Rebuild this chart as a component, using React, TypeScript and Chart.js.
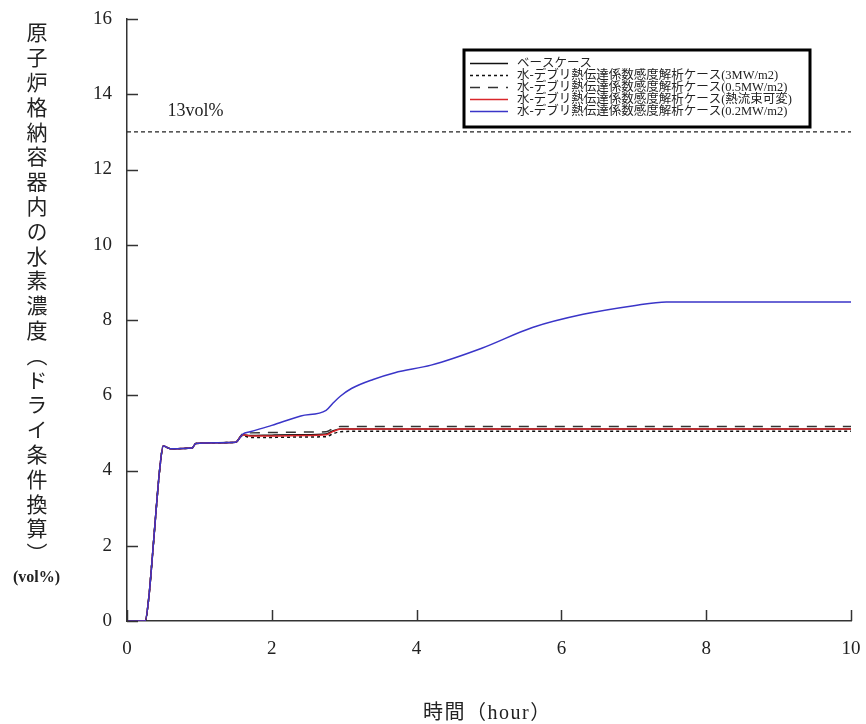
import React, { useEffect, useRef } from "react";
import { Chart, registerables } from "chart.js";

Chart.register(...registerables);

const hours = [0, 0.25, 0.3, 0.35, 0.4, 0.45, 0.5, 0.6, 0.9, 0.95, 1.5, 1.6, 1.7, 2.0, 2.4, 2.75, 2.85, 2.95, 3.1, 3.4, 3.7, 4.2, 4.9, 5.6, 6.3, 7.0, 7.45, 10];

const baseCase = [0, 0, 0.6, 1.7, 2.9, 4.0, 4.65, 4.58, 4.6, 4.72, 4.75, 4.95, 4.93, 4.94, 4.95, 4.97, 5.06, 5.1, 5.1, 5.1, 5.1, 5.1, 5.1, 5.1, 5.1, 5.1, 5.1, 5.1];
const case3MW = [0, 0, 0.6, 1.7, 2.9, 4.0, 4.65, 4.58, 4.6, 4.72, 4.75, 4.93, 4.88, 4.88, 4.89, 4.9, 4.98, 5.03, 5.04, 5.04, 5.04, 5.04, 5.04, 5.04, 5.04, 5.04, 5.04, 5.04];
const case05MW = [0, 0, 0.6, 1.7, 2.9, 4.0, 4.65, 4.58, 4.6, 4.72, 4.75, 4.98, 5.0, 5.01, 5.02, 5.03, 5.12, 5.17, 5.17, 5.17, 5.17, 5.17, 5.17, 5.17, 5.17, 5.17, 5.17, 5.17];
const caseVariable = [0, 0, 0.6, 1.7, 2.9, 4.0, 4.65, 4.58, 4.6, 4.72, 4.75, 4.95, 4.92, 4.92, 4.93, 4.95, 5.04, 5.1, 5.1, 5.1, 5.1, 5.1, 5.1, 5.1, 5.1, 5.1, 5.1, 5.1];
const case02MW = [0, 0, 0.6, 1.7, 2.9, 4.0, 4.65, 4.58, 4.6, 4.72, 4.75, 4.97, 5.03, 5.2, 5.45, 5.6, 5.8, 5.98, 6.18, 6.42, 6.6, 6.8, 7.25, 7.8, 8.15, 8.38, 8.48, 8.48];

const limitHours = [0, 10];
const limitValues = [13, 13];
const limitLabel = "13vol%";

const seriesLabels = [
  "ベースケース",
  "水-デブリ熱伝達係数感度解析ケース(3MW/m2)",
  "水-デブリ熱伝達係数感度解析ケース(0.5MW/m2)",
  "水-デブリ熱伝達係数感度解析ケース(熱流束可変)",
  "水-デブリ熱伝達係数感度解析ケース(0.2MW/m2)",
];

const xTicks = [0, 2, 4, 6, 8, 10];
const yTicks = [0, 2, 4, 6, 8, 10, 12, 14, 16];

const yTitle = "原子炉格納容器内の水素濃度（ドライ条件換算）";
const yUnit = "(vol%)";
const xTitle = "時間（hour）";

const SERIF = '"Liberation Serif", "Noto Sans CJK JP", serif';

const toPoints = (xs: number[], ys: number[]) => xs.map((x, i) => ({ x, y: ys[i] }));

const customPlugin = {
  id: "custom",
  afterDraw(chart: any) {
    const ctx = chart.ctx;
    const xs = chart.scales.x;
    const ys = chart.scales.y;
    const area = chart.chartArea;
    ctx.save();
    // inward ticks
    ctx.strokeStyle = "#333";
    ctx.lineWidth = 1.5;
    xTicks.forEach((v) => {
      const px = Math.round(xs.getPixelForValue(v)) + 0.5;
      ctx.beginPath();
      ctx.moveTo(px, area.bottom);
      ctx.lineTo(px, area.bottom - 11);
      ctx.stroke();
    });
    yTicks.forEach((v) => {
      const py = Math.round(ys.getPixelForValue(v)) + 0.5;
      ctx.beginPath();
      ctx.moveTo(area.left, py);
      ctx.lineTo(area.left + 11, py);
      ctx.stroke();
    });
    // 13vol% label
    ctx.fillStyle = "#222";
    ctx.font = "18px " + SERIF;
    ctx.textBaseline = "middle";
    ctx.textAlign = "left";
    ctx.fillText(limitLabel, xs.getPixelForValue(0.56), ys.getPixelForValue(13.55));

    // legend box
    const bx = 464, by = 50, bw = 346, bh = 77;
    ctx.fillStyle = "#fff";
    ctx.fillRect(bx, by, bw, bh);
    ctx.strokeStyle = "#000";
    ctx.lineWidth = 3;
    ctx.strokeRect(bx, by, bw, bh);
    const rowY = [63, 75, 87, 99, 111];
    ctx.font = "12.5px " + SERIF;
    chart.data.datasets.slice(0, 5).forEach((ds: any, i: number) => {
      const y = rowY[i] + 0.5;
      ctx.strokeStyle = ds.borderColor;
      ctx.lineWidth = 1.5;
      ctx.setLineDash(ds.borderDash || []);
      ctx.beginPath();
      ctx.moveTo(470, y);
      ctx.lineTo(508, y);
      ctx.stroke();
      ctx.setLineDash([]);
      ctx.fillStyle = "#222";
      ctx.fillText(ds.label, 517, y);
    });
    ctx.restore();
  },
};

export default function App() {
  const ref = useRef<HTMLCanvasElement>(null);
  useEffect(() => {
    if (!ref.current) return;
    const common = {
      pointRadius: 0,
      borderWidth: 1.5,
      cubicInterpolationMode: "monotone" as const,
      fill: false,
    };
    const chart = new Chart(ref.current, {
      type: "line",
      data: {
        datasets: [
          { ...common, label: seriesLabels[0], data: toPoints(hours, baseCase), borderColor: "#111", order: 4 },
          { ...common, label: seriesLabels[1], data: toPoints(hours, case3MW), borderColor: "#111", borderDash: [3, 3], order: 3 },
          { ...common, label: seriesLabels[2], data: toPoints(hours, case05MW), borderColor: "#333", borderDash: [10, 8], order: 2 },
          { ...common, label: seriesLabels[3], data: toPoints(hours, caseVariable), borderColor: "#d9262b", order: 1 },
          { ...common, label: seriesLabels[4], data: toPoints(hours, case02MW), borderColor: "#3a35c8", order: 0 },
          { ...common, label: limitLabel, data: toPoints(limitHours, limitValues), borderColor: "#222", borderWidth: 1.2, borderDash: [4, 3], order: 5 },
        ],
      },
      options: {
        responsive: false,
        animation: false,
        events: [],
        layout: { padding: { top: 19, right: 15, left: 0, bottom: 0 } },
        plugins: { legend: { display: false }, tooltip: { enabled: false } },
        scales: {
          x: {
            type: "linear",
            min: 0,
            max: 10,
            afterFit: (s: any) => {
              s.height = 103;
              s.paddingLeft = 0;
              s.paddingRight = 0;
            },
            afterBuildTicks: (s: any) => { s.ticks = xTicks.map((v) => ({ value: v })); },
            ticks: { color: "#222", font: { family: SERIF, size: 19 }, padding: 17, maxRotation: 0 },
            grid: { drawOnChartArea: false, drawTicks: false },
            border: { color: "#333", width: 1.5 },
          },
          y: {
            min: 0,
            max: 16,
            afterFit: (s: any) => {
              s.width = 127;
              s.paddingTop = 0;
              s.paddingBottom = 0;
            },
            afterBuildTicks: (s: any) => { s.ticks = yTicks.map((v) => ({ value: v })); },
            ticks: { color: "#222", font: { family: SERIF, size: 19 }, padding: 15 },
            grid: { drawOnChartArea: false, drawTicks: false },
            border: { color: "#333", width: 1.5 },
          },
        },
      },
      plugins: [customPlugin],
    });
    return () => chart.destroy();
  }, []);

  return (
    <div style={{ position: "fixed", left: 0, top: 0, width: 866, height: 724, overflow: "hidden", background: "#fff" }}>
      <canvas ref={ref} width={866} height={724} style={{ position: "absolute", left: 0, top: 0, display: "block" }} />
      <div
        style={{
          position: "absolute",
          left: 26,
          top: 22,
          writingMode: "vertical-rl",
          fontFamily: '"Noto Sans CJK JP", sans-serif',
          fontSize: 21,
          letterSpacing: 3.8,
          lineHeight: 1,
          color: "#222",
        }}
      >
        {yTitle}
      </div>
      <div style={{ position: "absolute", left: 13, top: 568, fontFamily: SERIF, fontWeight: "bold", fontSize: 16, color: "#222", whiteSpace: "nowrap" }}>
        {yUnit}
      </div>
      <div style={{ position: "absolute", left: 423, top: 696, fontFamily: SERIF, fontSize: 20, letterSpacing: 1.5, color: "#222", whiteSpace: "nowrap" }}>
        {xTitle}
      </div>
    </div>
  );
}
